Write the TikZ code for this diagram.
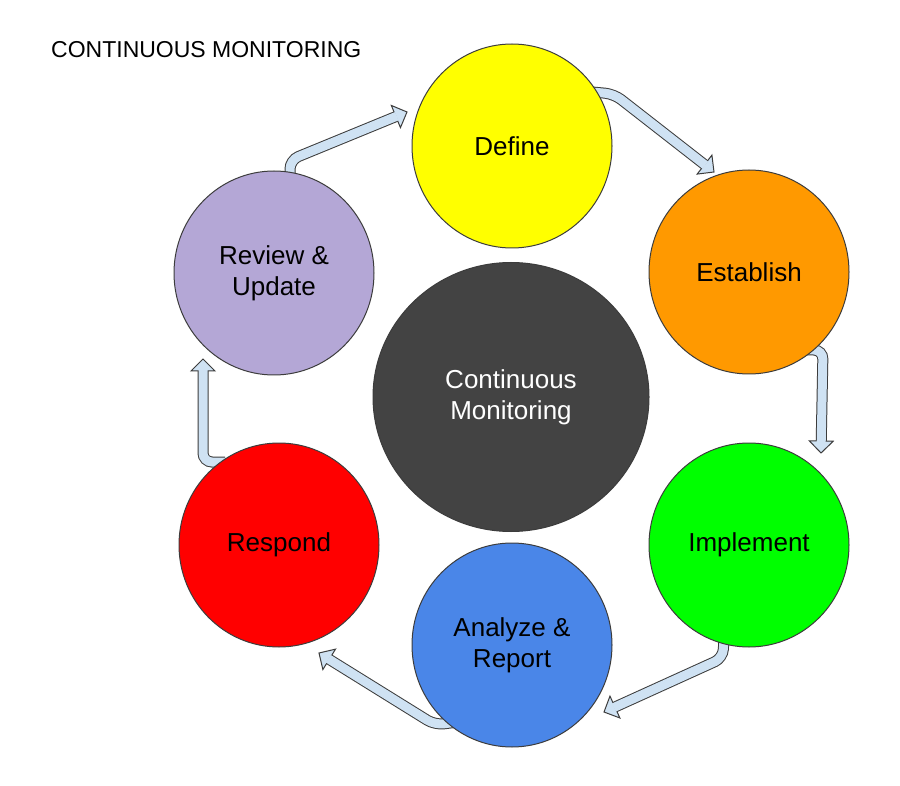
\documentclass[tikz,border=0pt]{standalone}
\usepackage{fontspec}
\setmainfont{Liberation Sans}
\usetikzlibrary{positioning, calc, backgrounds, shapes.geometric}
\definecolor{define}{HTML}{FFFF00}
\definecolor{establish}{HTML}{FF9900}
\definecolor{implement}{HTML}{00FF00}
\definecolor{analyze}{HTML}{4A86E8}
\definecolor{respond}{HTML}{FF0000}
\definecolor{review}{HTML}{B4A7D6}
\definecolor{core}{HTML}{434343}
\definecolor{arrowfill}{HTML}{CFE2F3}
\definecolor{edge}{HTML}{3C3C3C}

% bent block arrow: start, bend, tip
\newcommand{\cyclearrow}[3]{%
  \coordinate (base) at ($(#3)!12pt!(#2)$);
  \coordinate (inner) at ($(#3)!11pt!(#2)$);
  \draw[edge, line width=11pt, rounded corners=9pt] (#1) -- (#2) -- (base);
  \filldraw[fill=arrowfill, draw=edge, line width=1pt, line join=miter]
    ($(base)!12pt!90:(#3)$) -- (#3) -- ($(base)!12pt!-90:(#3)$) -- cycle;
  \draw[arrowfill, line width=9pt, rounded corners=9pt] (#1) -- (#2) -- (inner);
}

\begin{document}
\begin{tikzpicture}[
    x=1pt, y=-1pt,
    font=\fontsize{26}{31}\selectfont,
    stage/.style={
        ellipse,
        draw=edge,
        line width=1pt,
        minimum width=200pt,
        minimum height=204pt,
        inner sep=0pt,
        align=center
    },
    hub/.style={stage, fill=core, text=white, minimum width=276pt, minimum height=269pt},
    title/.style={anchor=west, inner sep=0pt, font=\fontsize{23}{28}\selectfont}
]
\useasboundingbox (0,0) rectangle (900,786);

% Title
\node[title] (T) at (51,50) {CONTINUOUS MONITORING};

% Stages
\node[stage, fill=define] (D) at (512,146) {Define};
\node[stage, fill=establish] (E) at (749,272) {Establish};
\node[stage, fill=implement] (I) at (749,545) {Implement};
\node[stage, fill=analyze] (A) at (512,645) {Analyze \&\\Report};
\node[stage, fill=respond] (R) at (279,545) {Respond};
\node[stage, fill=review] (U) at (274,273) {Review \&\\Update};
\node[hub] (C) at (511,397) {Continuous\\Monitoring};

% Arrow points
\coordinate (Dout) at (592,92);
\coordinate (Dbend) at (614,94);
\coordinate (Ein) at (714,172);
\coordinate (Eout) at (805,350);
\coordinate (Ebend) at (823,350);
\coordinate (Iin) at (821,453);
\coordinate (Iout) at (724,635);
\coordinate (Ibend) at (723,658);
\coordinate (Ain) at (604,712);
\coordinate (Aout) at (458,722);
\coordinate (Abend) at (435,725);
\coordinate (Rin) at (319,653);
\coordinate (Rout) at (225,462);
\coordinate (Rbend) at (203,462);
\coordinate (Uin) at (203,359);
\coordinate (Uout) at (290,178);
\coordinate (Ubend) at (290,160);
\coordinate (Din) at (407,112);

% Arrows
\begin{scope}[on background layer]
    \fill[white] (0,0) rectangle (900,786);
    \cyclearrow{Dout}{Dbend}{Ein}
    \cyclearrow{Eout}{Ebend}{Iin}
    \cyclearrow{Iout}{Ibend}{Ain}
    \cyclearrow{Aout}{Abend}{Rin}
    \cyclearrow{Rout}{Rbend}{Uin}
    \cyclearrow{Uout}{Ubend}{Din}
\end{scope}

\end{tikzpicture}
\end{document}
